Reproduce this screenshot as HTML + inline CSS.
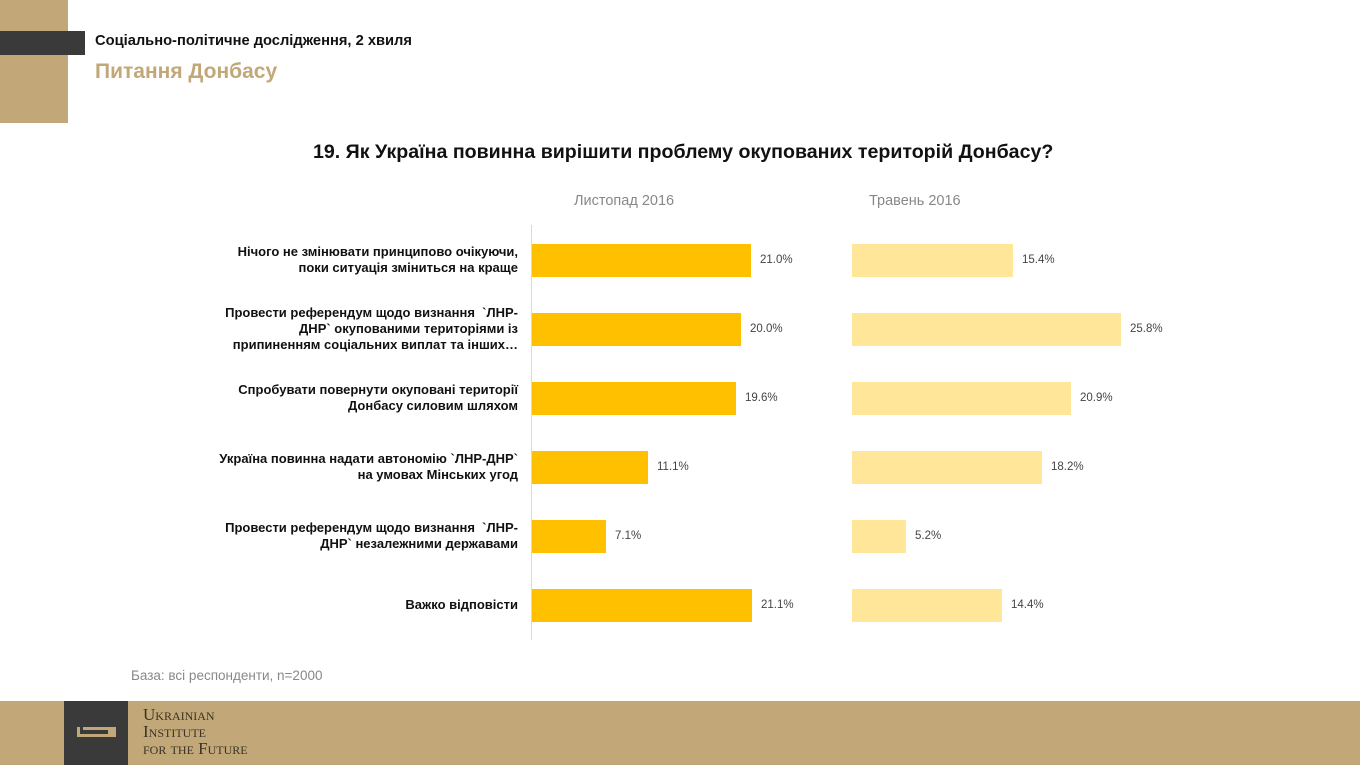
<!DOCTYPE html>
<html><head><meta charset="utf-8"><style>
*{margin:0;padding:0;box-sizing:border-box}
body{width:1360px;height:765px;position:relative;background:#fff;font-family:"Liberation Sans","DejaVu Sans",sans-serif;overflow:hidden}
.a{position:absolute}
.lab{position:absolute;right:842px;text-align:right;font-weight:bold;font-size:13px;line-height:16px;color:#111;white-space:nowrap}
.b1{position:absolute;left:532px;height:33px;background:#FFC000}
.b2{position:absolute;left:852px;height:33px;background:#FFE699}
.v{position:absolute;font-size:11.5px;color:#444;line-height:33px}
</style></head><body>
<div class="a" style="left:0;top:0;width:68px;height:123px;background:#C2A878"></div>
<div class="a" style="left:0;top:31px;width:85px;height:24px;background:#3a3a3a"></div>
<div class="a" style="left:95px;top:33px;font-size:14.7px;font-weight:bold;color:#111">Соціально-політичне дослідження, 2 хвиля</div>
<div class="a" style="left:95px;top:60px;font-size:21px;font-weight:bold;color:#C2A878">Питання Донбасу</div>
<div class="a" style="left:313px;top:141px;font-size:19.6px;font-weight:bold;color:#111;white-space:nowrap">19. Як Україна повинна вирішити проблему окупованих територій Донбасу?</div>
<div class="a" style="left:574px;top:193px;font-size:14.5px;color:#888">Листопад 2016</div>
<div class="a" style="left:869px;top:193px;font-size:14.5px;color:#888">Травень 2016</div>
<div class="a" style="left:531px;top:225px;width:1px;height:415px;background:#d9d9d9"></div>

<div class="lab" style="top:244px">Нічого не змінювати принципово очікуючи,<br>поки ситуація зміниться на краще</div>
<div class="lab" style="top:305px">Провести референдум щодо визнання &nbsp;`ЛНР-<br>ДНР` окупованими територіями із<br>припиненням соціальних виплат та інших…</div>
<div class="lab" style="top:382px">Спробувати повернути окуповані території<br>Донбасу силовим шляхом</div>
<div class="lab" style="top:451px">Україна повинна надати автономію `ЛНР-ДНР`<br>на умовах Мінських угод</div>
<div class="lab" style="top:520px">Провести референдум щодо визнання &nbsp;`ЛНР-<br>ДНР` незалежними державами</div>
<div class="lab" style="top:597px">Важко відповісти</div>

<div class="b1" style="top:244px;width:219px"></div><div class="v" style="top:244px;left:760px">21.0%</div>
<div class="b1" style="top:313px;width:209px"></div><div class="v" style="top:313px;left:750px">20.0%</div>
<div class="b1" style="top:382px;width:204px"></div><div class="v" style="top:382px;left:745px">19.6%</div>
<div class="b1" style="top:451px;width:116px"></div><div class="v" style="top:451px;left:657px">11.1%</div>
<div class="b1" style="top:520px;width:74px"></div><div class="v" style="top:520px;left:615px">7.1%</div>
<div class="b1" style="top:589px;width:220px"></div><div class="v" style="top:589px;left:761px">21.1%</div>

<div class="b2" style="top:244px;width:161px"></div><div class="v" style="top:244px;left:1022px">15.4%</div>
<div class="b2" style="top:313px;width:269px"></div><div class="v" style="top:313px;left:1130px">25.8%</div>
<div class="b2" style="top:382px;width:219px"></div><div class="v" style="top:382px;left:1080px">20.9%</div>
<div class="b2" style="top:451px;width:190px"></div><div class="v" style="top:451px;left:1051px">18.2%</div>
<div class="b2" style="top:520px;width:54px"></div><div class="v" style="top:520px;left:915px">5.2%</div>
<div class="b2" style="top:589px;width:150px"></div><div class="v" style="top:589px;left:1011px">14.4%</div>

<div class="a" style="left:131px;top:668px;font-size:13.5px;color:#888">База: всі респонденти, n=2000</div>

<div class="a" style="left:0;top:701px;width:1360px;height:64px;background:#C2A878"></div>
<div class="a" style="left:64px;top:701px;width:64px;height:64px;background:#3a3a3a"></div>
<div class="a" style="left:77px;top:727px;width:39px;height:10px;border:3px solid #C2A878;border-top:none;border-right:none"></div>
<div class="a" style="left:83px;top:727px;width:28px;height:3px;background:#C2A878"></div>
<div class="a" style="left:108px;top:727px;width:8px;height:8px;background:#C2A878"></div>
<div class="a" style="left:143px;top:706px;font-family:'Liberation Serif',serif;font-size:17px;line-height:17px;color:#3a3326;font-variant:small-caps">Ukrainian<br>Institute<br>for the Future</div>
</body></html>
